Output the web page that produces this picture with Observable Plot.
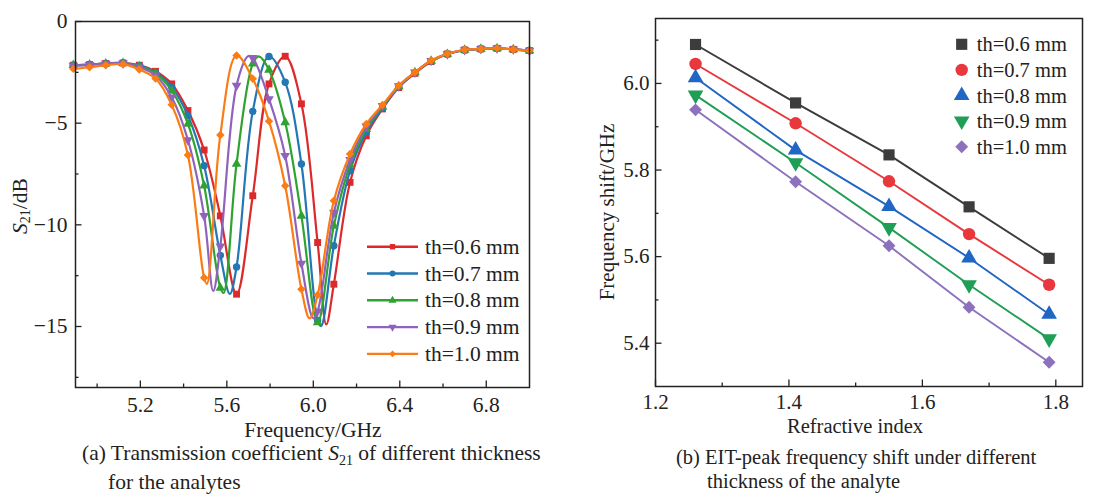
<!DOCTYPE html>
<html><head><meta charset="utf-8">
<script src="https://cdn.jsdelivr.net/npm/d3@7"></script>
<script src="https://cdn.jsdelivr.net/npm/@observablehq/plot@0.6"></script>
<style>
body{margin:0;background:#fff;}
#wrap{position:relative;width:1109px;height:494px;overflow:hidden;font-family:"Liberation Serif","Times New Roman",Times,serif;color:#222;}
.panel{position:absolute;top:0;}
.cap{position:absolute;white-space:nowrap;}
.sub{font-size:14px;position:relative;top:5px;}
</style></head><body>
<div id="wrap">
 <div id="pa" class="panel" style="left:0;width:560px"></div>
 <div id="pb" class="panel" style="left:560px;width:549px"></div>
 <div class="cap" style="left:82px;top:440px;font-size:21.5px;line-height:26px">(a) Transmission coefficient <i>S</i><span class="sub">21</span> of different thickness<br><span style="padding-left:26px">for the analytes</span></div>
 <div class="cap" style="left:676px;top:445px;font-size:20.5px;line-height:24px">(b) EIT-peak frequency shift under different<br><span style="padding-left:31px">thickness of the analyte</span></div>
</div>
<script>
// ---------- data: panel (a) ----------
const F = [4.89,4.965,5.04,5.12,5.195,5.27,5.345,5.42,5.495,5.57,5.645,5.72,5.795,5.87,5.945,6.02,6.095,6.17,6.245,6.32,6.395,6.47,6.545,6.62,6.7,6.775,6.85,6.925,7.0];
const S06 = [-2.15,-2.12,-2.06,-2.04,-2.15,-2.45,-3.07,-4.38,-6.32,-9.56,-13.41,-8.57,-3.07,-1.71,-4.05,-10.87,-12.92,-7.91,-5.62,-4.30,-3.25,-2.55,-1.97,-1.6,-1.4,-1.35,-1.32,-1.37,-1.43];
const S07 = [-2.15,-2.12,-2.06,-2.04,-2.17,-2.5,-3.23,-4.63,-7.09,-11.5,-12.07,-4.42,-1.72,-2.99,-7.01,-14.7,-11.03,-7.34,-5.45,-4.25,-3.2,-2.52,-1.95,-1.6,-1.4,-1.35,-1.32,-1.37,-1.43];
const S08 = [-2.15,-2.12,-2.07,-2.05,-2.2,-2.55,-3.4,-5.04,-8.08,-13.1,-7.0,-2.08,-2.38,-4.96,-9.56,-14.8,-10.05,-7.05,-5.3,-4.2,-3.2,-2.5,-1.94,-1.6,-1.4,-1.35,-1.32,-1.37,-1.43];
const S09 = [-2.17,-2.13,-2.07,-2.06,-2.25,-2.65,-3.73,-5.83,-9.56,-11.05,-3.15,-1.79,-3.81,-6.6,-11.9,-14.25,-9.4,-6.8,-5.15,-4.15,-3.18,-2.5,-1.93,-1.6,-1.4,-1.35,-1.32,-1.37,-1.43];
const S10 = [-2.33,-2.25,-2.15,-2.1,-2.36,-2.8,-4.1,-6.57,-12.6,-5.58,-1.67,-2.82,-4.9,-8.08,-13.17,-13.45,-8.82,-6.52,-5.04,-4.1,-3.15,-2.5,-1.92,-1.59,-1.39,-1.35,-1.31,-1.38,-1.43];
// extra line points between markers (dips / peaks)
const X06 = [[6.06,-14.9]];
const X07 = [[5.614,-13.4],[6.036,-14.98]];
const X08 = [[5.585,-13.35],[5.748,-1.72]];
const X09 = [[5.537,-13.25],[5.70,-1.7],[6.0,-14.6]];
const X10 = [[5.508,-12.9],[5.983,-14.6]];
const thLabels = ["th=0.6 mm","th=0.7 mm","th=0.8 mm","th=0.9 mm","th=1.0 mm"];
const xTicksA = [5.2,5.6,6.0,6.4,6.8], xMinorA = [5.0,5.4,5.8,6.2,6.6];
const yTicksA = [0,-5,-10,-15], yMinorA = [-2.5,-7.5,-12.5,-17.5];

// ---------- data: panel (b) ----------
const RI = [1.26,1.41,1.55,1.67,1.79];
const B06 = [6.09,5.955,5.835,5.715,5.596];
const B07 = [6.045,5.908,5.774,5.652,5.535];
const B08 = [6.013,5.846,5.716,5.597,5.467];
const B09 = [5.973,5.817,5.667,5.535,5.41];
const B10 = [5.939,5.773,5.625,5.483,5.356];
const xTicksB = [1.2,1.4,1.6,1.8], xMinorB = [1.3,1.5,1.7];
const yTicksB = [5.4,5.6,5.8,6.0], yMinorB = [5.5,5.7,5.9,6.1];

// ---------- styles ----------
const FONT = '"Liberation Serif","Times New Roman",Times,serif';
const INK = "#222";
const COLA = ["#dc2a2c","#2477b5","#30a232","#9162bc","#fb7c14"];
const COLB = ["#3c3c3c","#e8383d","#1f66c5","#1f9e55","#8c72bd"];
const SYM = ["square","circle","triangle","triangle","diamond2"];
const ROT = [0,0,0,180,0];
const RA = [3.9,3.7,3.6,3.6,3.8];
const RB = [6.3,6.2,5.8,5.8,5.8];
const minus = d => d < 0 ? "\u2212" + (-d) : String(d);
const f1 = d3.format(".1f");

// inward ticks drawn as short rules inset from the frame edges
function ticks(values, dim, len, fw, fh) {
  return dim === "x"
    ? Plot.ruleX(values, {x: d => d, insetTop: fh - len, stroke: INK, strokeWidth: 1.3})
    : Plot.ruleY(values, {y: d => d, insetRight: fw - len, stroke: INK, strokeWidth: 1.3});
}

function rowsA(vals, extra) {
  const rows = F.map((f, i) => ({f, v: vals[i], m: true}));
  extra.forEach(([f, v]) => rows.push({f, v, m: false}));
  rows.sort((a, b) => a.f - b.f);
  return rows;
}
const seriesA = [rowsA(S06,X06), rowsA(S07,X07), rowsA(S08,X08), rowsA(S09,X09), rowsA(S10,X10)];
const seriesB = [B06,B07,B08,B09,B10].map(vals => RI.map((n, i) => ({n, v: vals[i]})));

// ---------- panel (a) ----------
const A = {w: 560, h: 445, ml: 75, mr: 31, mt: 21, mb: 58};
const fwA = A.w - A.ml - A.mr, fhA = A.h - A.mt - A.mb;
const marksA = [
  ticks(xMinorA, "x", 3.5, fwA, fhA), ticks(xTicksA, "x", 6.5, fwA, fhA),
  ticks(yMinorA, "y", 3.5, fwA, fhA), ticks(yTicksA, "y", 6.5, fwA, fhA),
  Plot.axisX(xTicksA, {tickSize: 0, tickPadding: 9, tickFormat: f1, label: null}),
  Plot.axisY(yTicksA, {tickSize: 0, tickPadding: 8, tickFormat: minus, label: null})
];
seriesA.forEach((rows, i) => {
  marksA.push(Plot.line(rows, {x: "f", y: "v", stroke: COLA[i], strokeWidth: 2.2, curve: "catmull-rom"}));
  marksA.push(Plot.dot(rows.filter(d => d.m), {x: "f", y: "v", symbol: SYM[i], r: RA[i], fill: COLA[i], rotate: ROT[i]}));
});
marksA.push(Plot.frame({stroke: INK, strokeWidth: 1.5}));

const plotA = Plot.plot({
  width: A.w, height: A.h, marginLeft: A.ml, marginRight: A.mr, marginTop: A.mt, marginBottom: A.mb,
  x: {domain: [4.9, 7.0]}, y: {domain: [-18.0, 0]},
  style: {fontFamily: FONT, fontSize: "21.5px", color: INK, background: "transparent", overflow: "visible"},
  marks: marksA
});
document.getElementById("pa").appendChild(plotA);

// ---------- panel (b) ----------
const B = {w: 549, h: 445, ml: 95, mr: 27, mt: 18, mb: 59};
const fwB = B.w - B.ml - B.mr, fhB = B.h - B.mt - B.mb;
const marksB = [
  ticks(xMinorB, "x", 3.5, fwB, fhB), ticks(xTicksB, "x", 6.5, fwB, fhB),
  ticks(yMinorB, "y", 3.5, fwB, fhB), ticks(yTicksB, "y", 6.5, fwB, fhB),
  Plot.axisX(xTicksB, {tickSize: 0, tickPadding: 8, tickFormat: f1, label: null}),
  Plot.axisY(yTicksB, {tickSize: 0, tickPadding: 6, tickFormat: f1, label: null})
];
seriesB.forEach((rows, i) => {
  marksB.push(Plot.line(rows, {x: "n", y: "v", stroke: COLB[i], strokeWidth: 1.9}));
  marksB.push(Plot.dot(rows, {x: "n", y: "v", symbol: SYM[i], r: RB[i], fill: COLB[i], rotate: ROT[i]}));
});
marksB.push(Plot.frame({stroke: INK, strokeWidth: 1.5}));

const plotB = Plot.plot({
  width: B.w, height: B.h, marginLeft: B.ml, marginRight: B.mr, marginTop: B.mt, marginBottom: B.mb,
  x: {domain: [1.2, 1.84]}, y: {domain: [5.3, 6.15]},
  style: {fontFamily: FONT, fontSize: "21px", color: INK, background: "transparent", overflow: "visible"},
  marks: marksB
});
document.getElementById("pb").appendChild(plotB);

// ---------- axis titles ----------
const svgA = d3.select(plotA), svgB = d3.select(plotB);
svgA.append("text").attr("x", 313).attr("y", 437).attr("text-anchor", "middle")
  .attr("font-size", 21.5).attr("fill", INK).text("Frequency/GHz");
const tA = svgA.append("text").attr("transform", "translate(20,206) rotate(-90)")
  .attr("text-anchor", "middle").attr("dominant-baseline", "central").attr("font-size", 21.5).attr("fill", INK);
tA.append("tspan").attr("font-style", "italic").text("S");
tA.append("tspan").attr("font-size", 14).attr("dy", 5).text("21");
tA.append("tspan").attr("dy", -5).text("/dB");

svgB.append("text").attr("x", 295).attr("y", 433).attr("text-anchor", "middle")
  .attr("font-size", 20.5).attr("fill", INK).text("Refractive index");
svgB.append("text").attr("transform", "translate(47,212) rotate(-90)")
  .attr("text-anchor", "middle").attr("dominant-baseline", "central").attr("font-size", 21).attr("fill", INK)
  .text("Frequency shift/GHz");

// ---------- legends ----------
const symMap = {square: d3.symbolSquare, circle: d3.symbolCircle, triangle: d3.symbolTriangle, diamond2: d3.symbolDiamond2};
const legA = svgA.append("g");
thLabels.forEach((lab, i) => {
  const y = 246.7 + i * 26.8;
  legA.append("line").attr("x1", 367).attr("x2", 418).attr("y1", y).attr("y2", y)
    .attr("stroke", COLA[i]).attr("stroke-width", 2.4);
  legA.append("path").attr("d", d3.symbol(symMap[SYM[i]], Math.PI * 3 * 3)())
    .attr("transform", `translate(392.5,${y}) rotate(${ROT[i]})`).attr("fill", COLA[i]);
  legA.append("text").attr("x", 425).attr("y", y).attr("dominant-baseline", "central")
    .attr("text-anchor", "start").attr("font-size", 21.5).attr("fill", INK).text(lab);
});
const legB = svgB.append("g");
thLabels.forEach((lab, i) => {
  const y = 44.3 + i * 25.6;
  legB.append("path").attr("d", d3.symbol(symMap[SYM[i]], Math.PI * RB[i] * RB[i])())
    .attr("transform", `translate(401.7,${y}) rotate(${ROT[i]})`).attr("fill", COLB[i]);
  legB.append("text").attr("x", 416.7).attr("y", y).attr("dominant-baseline", "central")
    .attr("text-anchor", "start").attr("font-size", 20.5).attr("fill", INK).text(lab);
});
</script>
</body></html>
